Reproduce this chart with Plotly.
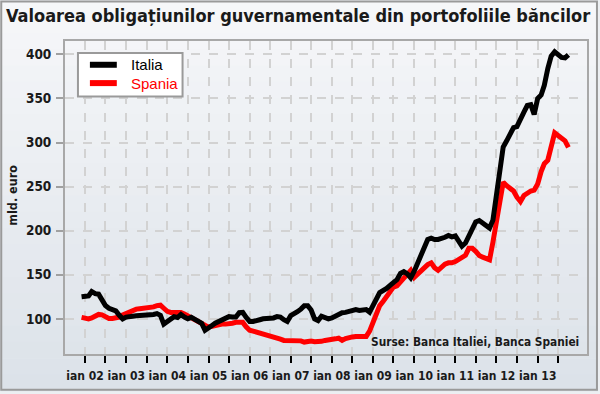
import plotly.graph_objects as go
import pandas as pd

# ---- data (monthly, from Dec 2001) ----
start_month = "2001-12-01"
italia = [125, 125, 126, 131, 128.5, 128, 121, 115, 112, 111, 109, 104, 100,
          102, 102, 103, 103.5, 103.6, 103.6, 104, 104.5, 105, 106, 104, 94,
          97, 101, 102.5, 101.5, 105, 102, 100, 101.7, 99, 98, 95, 87,
          89, 92.5, 95, 97, 99, 100.5, 102.5, 102, 102, 107, 107.3, 101.7,
          97, 97, 98.5, 99, 100, 100, 100, 101, 102.5, 102, 99, 97,
          103.6, 105.4, 108, 111, 114.8, 114.8, 110, 100, 98, 103, 101, 100,
          101, 103.6, 105, 107, 107.3, 108, 110, 110.5, 109.5, 110, 110.5, 107.5,
          114, 123, 129.8, 131.5, 134.5, 138, 141, 144.5, 151.5, 153.5, 151, 146.6,
          154, 163, 173, 181, 190, 191.5, 190, 190, 190.8, 192.5, 194.5, 193,
          194, 189, 182.5, 186, 195, 203, 210, 211.5, 209, 205.5, 203, 212,
          240, 275, 295, 302, 309.6, 317, 318, 325, 334.5, 342, 343, 332,
          350, 354, 365, 384, 398, 403, 399, 396.5, 396, 399.4]
spania = [101.7, 101, 100, 101, 102.5, 105, 104.5, 103, 100.5, 100.5, 101, 102, 104.5,
          106.5, 108.5, 110, 111, 111.5, 112, 112, 112.5, 113.5, 115, 115.5, 112,
          108.5, 107.3, 107.3, 107.3, 107.3, 105.5, 103.5, 101, 98.5, 96, 94, 92.5,
          90.5, 91.5, 92.5, 93.5, 94, 94, 94, 95, 96, 96, 96, 91,
          87, 86, 85, 84, 83.5, 82.5, 81, 80, 79, 77, 75.5, 75.5,
          75.5, 75.5, 75.5, 75, 73.6, 74.5, 74.7, 74, 73.6, 74.5, 75.5, 76.5,
          77.3, 77.3, 78, 75.5, 77.5, 79.2, 79.5, 80, 80, 80, 80, 86,
          96, 106, 115, 120, 126, 132.5, 136, 137.3, 142, 147, 152, 155,
          147, 151, 155, 159, 161.5, 163.5, 158, 155, 159.5, 162, 163.5, 163.5,
          165, 168, 169, 172, 180, 180, 176.6, 172, 170, 168, 167, 187,
          210, 240, 255, 251, 248, 245, 238, 233, 240, 243, 245, 246,
          253, 267, 276, 280, 296, 311, 308, 304, 302, 294.6]
series_names = ["Italia", "Spania"]
series_colors = ["#000000", "#ff0000"]
years = list(range(2002, 2014))
y_ticks = [100, 150, 200, 250, 300, 350, 400]
title_text = "Valoarea obligațiunilor guvernamentale din portofoliile băncilor"
source_text = "Surse: Banca Italiei, Banca Spaniei"
y_title = "mld. euro"

dates_it = pd.date_range(start_month, periods=len(italia), freq="MS")
dates_es = pd.date_range(start_month, periods=len(spania), freq="MS")

tickvals, ticktext = [], []
for y in years:
    tickvals.append(f"{y}-01-01")
    ticktext.append(f"ian {y % 100:02d}")
    tickvals.append(f"{y}-07-01")
    ticktext.append("")

NARROW = "DejaVu Sans Condensed, DejaVu Sans, sans-serif"
REG = "Liberation Sans, Arial, sans-serif"

fig = go.Figure()
fig.add_trace(go.Scatter(x=dates_es, y=spania, mode="lines", name=series_names[1],
                         line=dict(color=series_colors[1], width=5)))
fig.add_trace(go.Scatter(x=dates_it, y=italia, mode="lines", name=series_names[0],
                         line=dict(color=series_colors[0], width=5)))

# geometry helpers (pixel -> paper)
L, W, T, H = 65, 524, 41, 316
FW, FH = 600, 394
def px_x(p):
    return (p - L) / W
def px_y(p):
    return (T + H - p) / H

shapes = []
# background gradient bands (full figure)
nb = 24
c0 = (246, 247, 249)
c1 = (220, 226, 233)
for i in range(nb):
    f = i / (nb - 1)
    col = tuple(round(c0[k] + (c1[k] - c0[k]) * f) for k in range(3))
    shapes.append(dict(type="rect", xref="paper", yref="paper", layer="below",
                       x0=px_x(0), x1=px_x(FW), y0=px_y(FH * (i + 1) / nb + 0.5), y1=px_y(FH * i / nb),
                       line=dict(width=0), fillcolor=f"rgb{col}"))
# outer frame
shapes.append(dict(type="rect", xref="paper", yref="paper", layer="above",
                   x0=px_x(1), x1=px_x(FW - 1), y0=px_y(FH - 1), y1=px_y(1),
                   line=dict(color="#9a9a9a", width=2), fillcolor="rgba(0,0,0,0)"))
# legend box and samples
shapes.append(dict(type="rect", xref="paper", yref="paper", layer="above",
                   x0=px_x(78), x1=px_x(183), y0=px_y(97), y1=px_y(53),
                   line=dict(color="#9a9a9a", width=2), fillcolor="#ffffff"))
legend_rows = [65, 83.5]
annotations = []
for name, col, ry in zip(series_names, series_colors, legend_rows):
    shapes.append(dict(type="line", xref="paper", yref="paper", layer="above",
                       x0=px_x(90), x1=px_x(117), y0=px_y(ry), y1=px_y(ry),
                       line=dict(color=col, width=6)))
    annotations.append(dict(text=name, xref="paper", yref="paper", x=px_x(129), y=px_y(ry),
                            xanchor="left", yanchor="middle", showarrow=False,
                            font=dict(family=REG, size=15, color=col)))

annotations += [
    dict(text=title_text, xref="paper", yref="paper", x=px_x(299), y=px_y(15),
         xanchor="center", yanchor="middle", showarrow=False,
         font=dict(family=NARROW, size=18, color="#1a1a1a", weight="bold")),
    dict(text=y_title, xref="paper", yref="paper", x=px_x(12), y=px_y(197),
         xanchor="center", yanchor="middle", showarrow=False, textangle=-90,
         font=dict(family=NARROW, size=12.5, color="#1a1a1a", weight="bold")),
    dict(text=source_text, xref="paper", yref="paper", x=px_x(583), y=px_y(345),
         xanchor="right", yanchor="middle", showarrow=False,
         font=dict(family=NARROW, size=11.8, color="#1a1a1a", weight="bold")),
]

fig.update_layout(
    width=FW, height=FH,
    margin=dict(l=L, r=FW - L - W, t=T, b=FH - T - H),
    paper_bgcolor="#eceff2", plot_bgcolor="rgba(0,0,0,0)",
    showlegend=False,
    shapes=shapes,
    annotations=annotations,
    xaxis=dict(range=["2001-07-07", "2014-03-15"], tickvals=tickvals, ticktext=ticktext,
               tickangle=0, ticklabelstandoff=3,
               ticks="outside", ticklen=7, tickwidth=2, tickcolor="#000000",
               showline=True, mirror=True, linecolor="#a8a8a8", linewidth=2,
               showgrid=True, gridcolor="#d2d2d2", griddash="dash", gridwidth=1.5,
               tickfont=dict(family=NARROW, size=12, color="#1a1a1a", weight="bold"),
               zeroline=False),
    yaxis=dict(range=[60.1, 415.2], tickvals=y_ticks, ticklabelstandoff=2,
               ticks="outside", ticklen=7, tickwidth=2, tickcolor="#a0a0a0",
               showline=True, mirror=True, linecolor="#a8a8a8", linewidth=2,
               showgrid=True, gridcolor="#d2d2d2", griddash="dash", gridwidth=1.5,
               tickfont=dict(family=NARROW, size=13.5, color="#1a1a1a", weight="bold"),
               zeroline=False),
)

fig.write_html("out.html", config={"displayModeBar": False},
               post_script="document.body.style.margin='0';")
